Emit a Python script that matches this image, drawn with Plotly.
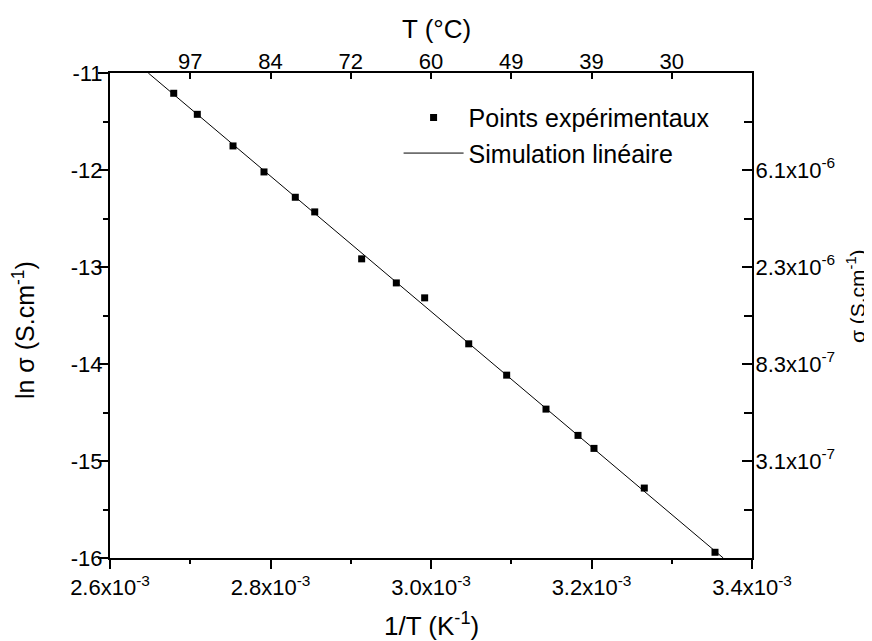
import plotly.graph_objects as go

# experimental points : 1/T (K^-1) and ln sigma
inv_t = [2.6794e-3, 2.7088e-3, 2.7533e-3, 2.7919e-3, 2.8309e-3, 2.8551e-3,
         2.9136e-3, 2.9568e-3, 2.9921e-3, 3.0470e-3, 3.0943e-3, 3.1433e-3,
         3.1832e-3, 3.2031e-3, 3.2658e-3, 3.3539e-3]
ln_sigma = [-11.209, -11.426, -11.752, -12.020, -12.281, -12.432,
            -12.916, -13.164, -13.318, -13.792, -14.115, -14.465,
            -14.736, -14.870, -15.279, -15.941]

# linear fit (end points)
fit_inv_t = [2.6477e-3, 3.3642e-3]
fit_ln_sigma = [-11.0, -16.0]

# tick values / labels
bottom_ticks = [2.6e-3, 2.8e-3, 3.0e-3, 3.2e-3, 3.4e-3]
bottom_labels = ['2.6x10<sup>-3</sup>', '2.8x10<sup>-3</sup>', '3.0x10<sup>-3</sup>',
                 '3.2x10<sup>-3</sup>', '3.4x10<sup>-3</sup>']
left_ticks = [-11, -12, -13, -14, -15, -16]
left_labels = ['-11', '-12', '-13', '-14', '-15', '-16']
top_ticks = [2.7e-3, 2.8e-3, 2.9e-3, 3.0e-3, 3.1e-3, 3.2e-3, 3.3e-3]
top_labels = ['97', '84', '72', '60', '49', '39', '30']
right_ticks = [-12, -13, -14, -15]
right_labels = ['6.1x10<sup>-6</sup>', '2.3x10<sup>-6</sup>',
                '8.3x10<sup>-7</sup>', '3.1x10<sup>-7</sup>']

FONT = 'Arial, Liberation Sans, sans-serif'
x_range = [2.6e-3, 3.4e-3]
y_range = [-16, -11]

fig = go.Figure()

fig.add_trace(go.Scatter(x=inv_t, y=ln_sigma, mode='markers', name='Points expérimentaux',
                         marker=dict(symbol='square', size=7, color='black')))
fig.add_trace(go.Scatter(x=fit_inv_t, y=fit_ln_sigma, mode='lines', name='Simulation linéaire',
                         line=dict(color='black', width=1)))
# dummy trace so that the top / right axes get drawn
fig.add_trace(go.Scatter(x=inv_t[:1], y=ln_sigma[:1], xaxis='x2', yaxis='y2',
                         mode='markers', marker=dict(opacity=0), showlegend=False,
                         hoverinfo='skip'))

axis_common = dict(showline=True, linecolor='black', linewidth=2, showgrid=False,
                   zeroline=False, tickcolor='black', tickwidth=2, automargin=False,
                   tickfont=dict(family=FONT, size=22, color='black'))

# the page body adds an 8px offset, so the figure is a bit smaller than the window
fig.update_layout(
    width=864, height=633,
    margin=dict(l=102, r=120, t=65, b=83),
    paper_bgcolor='white', plot_bgcolor='white',
    font=dict(family=FONT, color='black'),
    showlegend=True,
    legend=dict(x=0.4495, y=0.955, xanchor='left', yanchor='top',
                bgcolor='rgba(0,0,0,0)', font=dict(family=FONT, size=25),
                itemwidth=60, tracegroupgap=0),
    xaxis=dict(range=x_range, tickmode='array', tickvals=bottom_ticks, ticktext=bottom_labels,
               ticks='outside', ticklen=9,
               minor=dict(dtick=1e-4, tick0=2.6e-3, ticks='outside', ticklen=4,
                          tickcolor='black', tickwidth=2),
               **axis_common),
    yaxis=dict(range=y_range, tickmode='array', tickvals=left_ticks, ticktext=left_labels,
               ticks='outside', ticklen=10, ticklabelstandoff=-9,
               minor=dict(dtick=0.5, tick0=-16, ticks='outside', ticklen=5,
                          tickcolor='black', tickwidth=2),
               **axis_common),
    xaxis2=dict(range=x_range, overlaying='x', side='top', anchor='y',
                tickmode='array', tickvals=top_ticks, ticktext=top_labels,
                ticks='inside', ticklen=6, ticklabelstandoff=-7,
                **axis_common),
    yaxis2=dict(range=y_range, overlaying='y', side='right', anchor='x',
                tickmode='array', tickvals=right_ticks, ticktext=right_labels,
                ticks='inside', ticklen=10, ticklabelstandoff=-3,
                minor=dict(dtick=0.5, tick0=-16, ticks='inside', ticklen=8,
                           tickcolor='black', tickwidth=2),
                **axis_common),
)

# axis titles
title_font = dict(family=FONT, size=26, color='black')
fig.add_annotation(text='T (°C)', xref='paper', yref='paper', x=0.508, y=1.0, yshift=44,
                   showarrow=False, font=title_font, yanchor='middle')
fig.add_annotation(text='1/T (K<sup>-1</sup>)', xref='paper', yref='paper', x=0.5, y=0.0,
                   yshift=-66, showarrow=False, font=title_font, yanchor='middle')
fig.add_annotation(text='ln σ (S.cm<sup>-1</sup>)', xref='paper', yref='paper', x=0.0, y=0.47,
                   xshift=-86, showarrow=False, font=dict(family=FONT, size=25, color='black'),
                   textangle=-90, xanchor='center', yanchor='middle')
fig.add_annotation(text='σ (S.cm<sup>-1</sup>)', xref='paper', yref='paper', x=1.0, y=0.54,
                   xshift=104, showarrow=False, font=dict(family=FONT, size=21, color='black'),
                   textangle=-90, xanchor='center', yanchor='middle')

fig.write_html('out.html')
